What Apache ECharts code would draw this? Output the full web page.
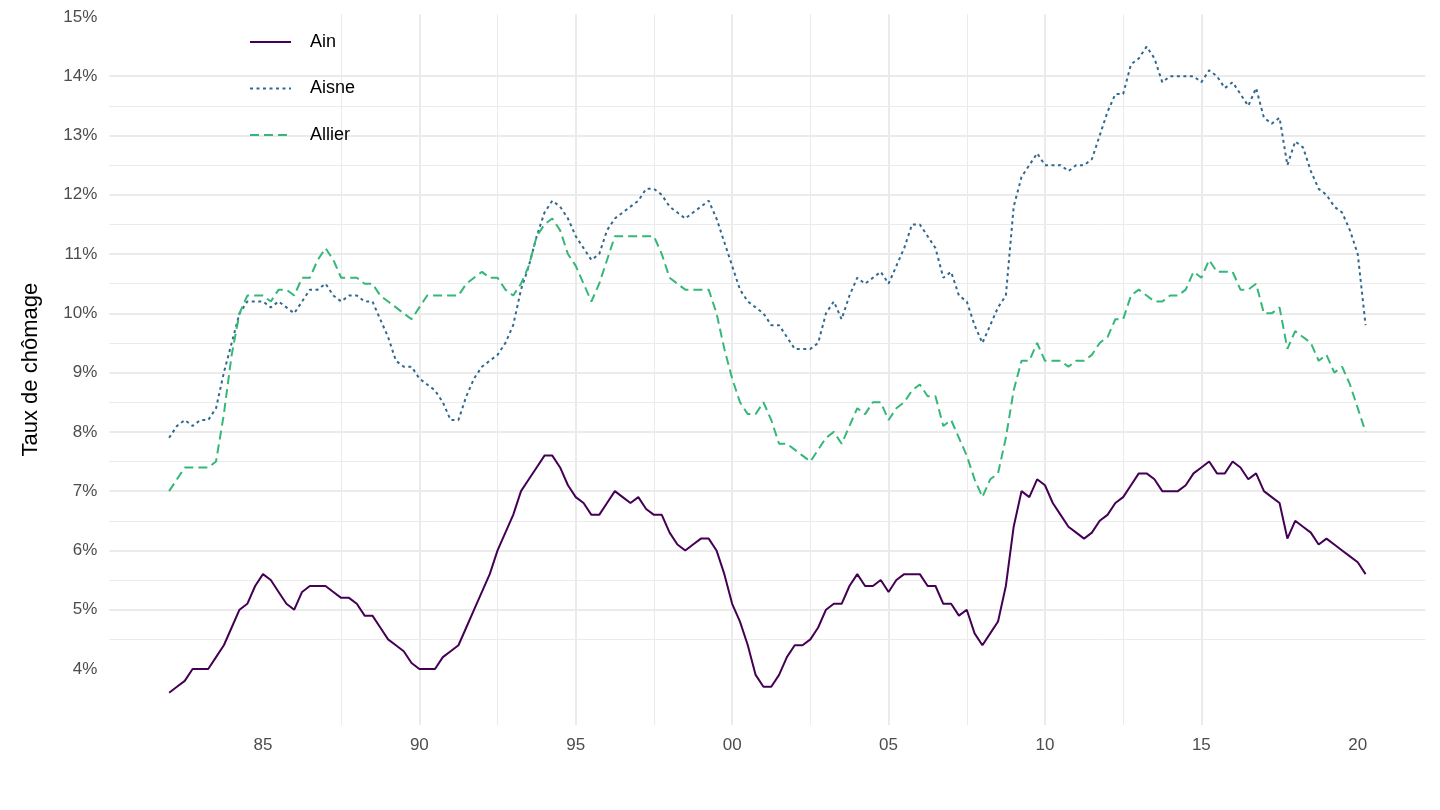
<!DOCTYPE html>
<html><head><meta charset="utf-8">
<script src="https://cdn.jsdelivr.net/npm/echarts@6/dist/echarts.min.js"></script>
<style>html,body{margin:0;padding:0;background:#fff}#c{width:1440px;height:810px}</style>
</head><body><div id="c"></div>
<script>
// Quarterly unemployment rate (%), 1982Q1 .. 2020Q2
const firstYear = 1982;
const seriesNames = ['Ain', 'Aisne', 'Allier'];
const ain = [3.6,3.7,3.8,4.0,4.0,4.0,4.2,4.4,4.7,5.0,5.1,5.4,5.6,5.5,5.3,5.1,5.0,5.3,5.4,5.4,
5.4,5.3,5.2,5.2,5.1,4.9,4.9,4.7,4.5,4.4,4.3,4.1,4.0,4.0,4.0,4.2,4.3,4.4,4.7,5.0,
5.3,5.6,6.0,6.3,6.6,7.0,7.2,7.4,7.6,7.6,7.4,7.1,6.9,6.8,6.6,6.6,6.8,7.0,6.9,6.8,
6.9,6.7,6.6,6.6,6.3,6.1,6.0,6.1,6.2,6.2,6.0,5.6,5.1,4.8,4.4,3.9,3.7,3.7,3.9,4.2,
4.4,4.4,4.5,4.7,5.0,5.1,5.1,5.4,5.6,5.4,5.4,5.5,5.3,5.5,5.6,5.6,5.6,5.4,5.4,5.1,
5.1,4.9,5.0,4.6,4.4,4.6,4.8,5.4,6.4,7.0,6.9,7.2,7.1,6.8,6.6,6.4,6.3,6.2,6.3,6.5,
6.6,6.8,6.9,7.1,7.3,7.3,7.2,7.0,7.0,7.0,7.1,7.3,7.4,7.5,7.3,7.3,7.5,7.4,7.2,7.3,
7.0,6.9,6.8,6.2,6.5,6.4,6.3,6.1,6.2,6.1,6.0,5.9,5.8,5.6];
const aisne = [7.9,8.1,8.2,8.1,8.2,8.2,8.4,9.0,9.5,10.0,10.2,10.2,10.2,10.1,10.2,10.1,10.0,10.2,10.4,10.4,
10.5,10.3,10.2,10.3,10.3,10.2,10.2,9.9,9.6,9.2,9.1,9.1,8.9,8.8,8.7,8.5,8.2,8.2,8.6,8.9,
9.1,9.2,9.3,9.5,9.8,10.4,10.8,11.3,11.7,11.9,11.8,11.6,11.3,11.1,10.9,11.0,11.4,11.6,11.7,11.8,
11.9,12.1,12.1,12.0,11.8,11.7,11.6,11.7,11.8,11.9,11.6,11.2,10.8,10.4,10.2,10.1,10.0,9.8,9.8,9.6,
9.4,9.4,9.4,9.5,10.0,10.2,9.9,10.3,10.6,10.5,10.6,10.7,10.5,10.8,11.1,11.5,11.5,11.3,11.1,10.6,
10.7,10.3,10.2,9.8,9.5,9.8,10.1,10.3,11.8,12.3,12.5,12.7,12.5,12.5,12.5,12.4,12.5,12.5,12.6,13.0,
13.4,13.7,13.7,14.2,14.3,14.5,14.3,13.9,14.0,14.0,14.0,14.0,13.9,14.1,14.0,13.8,13.9,13.7,13.5,13.8,
13.3,13.2,13.3,12.5,12.9,12.8,12.4,12.1,12.0,11.8,11.7,11.4,11.0,9.8];
const allier = [7.0,7.2,7.4,7.4,7.4,7.4,7.5,8.3,9.3,10.0,10.3,10.3,10.3,10.2,10.4,10.4,10.3,10.6,10.6,10.9,
11.1,10.9,10.6,10.6,10.6,10.5,10.5,10.3,10.2,10.1,10.0,9.9,10.1,10.3,10.3,10.3,10.3,10.3,10.5,10.6,
10.7,10.6,10.6,10.4,10.3,10.5,10.8,11.3,11.5,11.6,11.4,11.0,10.8,10.5,10.2,10.5,10.9,11.3,11.3,11.3,
11.3,11.3,11.3,11.0,10.6,10.5,10.4,10.4,10.4,10.4,10.0,9.4,8.9,8.5,8.3,8.3,8.5,8.2,7.8,7.8,
7.7,7.6,7.5,7.7,7.9,8.0,7.8,8.1,8.4,8.3,8.5,8.5,8.2,8.4,8.5,8.7,8.8,8.6,8.6,8.1,
8.2,7.9,7.6,7.2,6.9,7.2,7.3,7.9,8.7,9.2,9.2,9.5,9.2,9.2,9.2,9.1,9.2,9.2,9.3,9.5,
9.6,9.9,9.9,10.3,10.4,10.3,10.2,10.2,10.3,10.3,10.4,10.7,10.6,10.9,10.7,10.7,10.7,10.4,10.4,10.5,
10.0,10.0,10.1,9.4,9.7,9.6,9.5,9.2,9.3,9.0,9.1,8.8,8.4,8.0];
const xTickValues = [1985, 1990, 1995, 2000, 2005, 2010, 2015, 2020];
const xMinorValues = [1982.5, 1987.5, 1992.5, 1997.5, 2002.5, 2007.5, 2012.5, 2017.5];
const yTickValues = [4, 5, 6, 7, 8, 9, 10, 11, 12, 13, 14, 15];
const yMinorValues = [3.5, 4.5, 5.5, 6.5, 7.5, 8.5, 9.5, 10.5, 11.5, 12.5, 13.5, 14.5];

const toPairs = arr => arr.map((v, i) => [firstYear + i / 4, v]);
const FONT = '"Liberation Sans", Arial, sans-serif';
const X_MIN = 1980.0875, X_MAX = 2022.1625, Y_MIN = 3.055, Y_MAX = 15.045;
const GRID_COLOR = '#EBEBEB';

const chart = echarts.init(document.getElementById('c'), null, {renderer: 'canvas'});
const seriesData = [ain, aisne, allier];
const colors = ['#440154', '#31688E', '#35B779'];
const dashes = ['solid', [3, 3.5], [9, 5]];

chart.setOption({
  animation: false,
  backgroundColor: '#ffffff',
  textStyle: {fontFamily: FONT},
  grid: {left: 109.3, right: 14.6, top: 14.3, bottom: 85, containLabel: false, outerBoundsMode: 'none'},
  legend: {
    data: seriesNames, orient: 'vertical', left: 244, top: 28,
    itemWidth: 41, itemHeight: 14, itemGap: 28.5,
    itemStyle: {opacity: 0},
    textStyle: {fontSize: 18, color: '#000', fontFamily: FONT, padding: [0, 0, 0, 14]}
  },
  xAxis: [
    {type: 'value', min: X_MIN, max: X_MAX, axisLine: {show: false},
     axisTick: {show: false, customValues: xTickValues},
     axisLabel: {customValues: xTickValues, color: '#4D4D4D', fontSize: 17, margin: 12, fontFamily: FONT,
       formatter: v => String(Math.round(v) % 100).padStart(2, '0')},
     splitLine: {show: true, showMinLine: false, showMaxLine: false, lineStyle: {color: GRID_COLOR, width: 2}}},
    {type: 'value', min: X_MIN, max: X_MAX, axisLine: {show: false},
     axisTick: {show: false, customValues: xMinorValues},
     axisLabel: {show: false, customValues: xMinorValues},
     splitLine: {show: true, showMinLine: false, showMaxLine: false, lineStyle: {color: GRID_COLOR, width: 1}}}
  ],
  yAxis: [
    {type: 'value', min: Y_MIN, max: Y_MAX, axisLine: {show: false},
     axisTick: {show: false, customValues: yTickValues},
     axisLabel: {customValues: yTickValues, color: '#4D4D4D', fontSize: 17, margin: 12, fontFamily: FONT,
       formatter: v => Math.round(v) + '%'},
     name: 'Taux de chômage', nameLocation: 'middle', nameRotate: 90, nameGap: 67,
     nameTextStyle: {fontSize: 22, color: '#000', fontFamily: FONT},
     splitLine: {show: true, showMinLine: false, showMaxLine: false, lineStyle: {color: GRID_COLOR, width: 2}}},
    {type: 'value', min: Y_MIN, max: Y_MAX, axisLine: {show: false},
     axisTick: {show: false, customValues: yMinorValues},
     axisLabel: {show: false, customValues: yMinorValues},
     splitLine: {show: true, showMinLine: false, showMaxLine: false, lineStyle: {color: GRID_COLOR, width: 1}}}
  ],
  series: seriesNames.map((name, k) => ({
    name, type: 'line', xAxisIndex: 0, yAxisIndex: 0,
    data: toPairs(seriesData[k]),
    showSymbol: false, symbol: 'none',
    lineStyle: {color: colors[k], width: 2, type: dashes[k]},
    itemStyle: {color: colors[k]},
    z: 3 + k
  }))
});
</script>
</body></html>
